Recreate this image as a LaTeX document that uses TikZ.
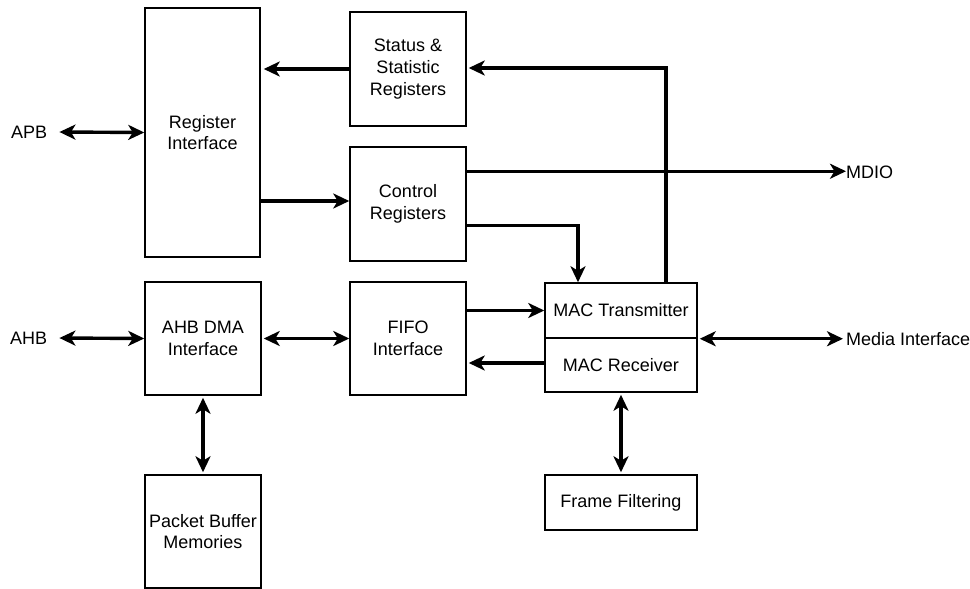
\documentclass[tikz,border=0pt]{standalone}
\usepackage{fontspec}
\setmainfont{Liberation Sans}
\usetikzlibrary{arrows.meta,calc}
\begin{document}
\begin{tikzpicture}[x=1pt,y=-1pt,
  box/.style={draw, line width=1.5pt, align=center, inner sep=0pt, font=\fontsize{18}{21.8}\selectfont},
  lbl/.style={inner sep=0pt, anchor=west, font=\fontsize{18}{21.8}\selectfont},
  tip/.tip={Stealth[length=16pt,width=15pt,inset=4.5pt]},
  arr/.style={line width=3.4pt, -tip},
  biarr/.style={line width=3.4pt, tip-tip}]
\useasboundingbox (0,0) rectangle (970,589);
% boxes
\node[box, minimum width=115pt, minimum height=249pt] (ri) at (202.5,132.5) {Register\\Interface};
\node[box, minimum width=116pt, minimum height=114pt] (ss) at (408,69) {Status \&\\Statistic\\Registers};
\node[box, minimum width=116pt, minimum height=114pt] (cr) at (408,204) {Control\\Registers};
\node[box, minimum width=116pt, minimum height=113pt] (dma) at (203,338.5) {AHB DMA\\Interface};
\node[box, minimum width=116pt, minimum height=113pt] (fifo) at (408,338.5) {FIFO\\Interface};
\node[box, minimum width=116pt, minimum height=113pt] (pbm) at (203,531.5) {Packet Buffer\\Memories};
\node[box, minimum width=152pt, minimum height=55pt] (mtx) at (621,310.5) {MAC Transmitter};
\node[box, minimum width=152pt, minimum height=54pt] (mrx) at (621,365) {MAC Receiver};
\node[box, minimum width=152pt, minimum height=55pt] (ff) at (621,502.5) {Frame Filtering};
% labels
\node[lbl] (apb) at (11,132) {APB};
\node[lbl] (ahb) at (10,338) {AHB};
\node[lbl] (mdio) at (846,172) {MDIO};
\node[lbl] (media) at (846,339) {Media Interface};
% connectors
\draw[biarr] ([xshift=12pt]apb.east) -- (ri.west);
\draw[biarr] ([xshift=12pt]ahb.east) -- (dma.west);
\draw[arr] (ss.west) -- ([xshift=3pt]ss.west -| ri.east);
\draw[arr] ([yshift=3pt]cr.west -| ri.east) -- ([yshift=3pt]cr.west);
\draw[arr] ([yshift=-25pt]cr.north east) -- ([yshift=-25pt]cr.north east -| mdio.west);
\draw[arr] ([yshift=36pt]cr.south east) -| ([xshift=-43pt]mtx.north);
\draw[arr] ([xshift=45pt]mtx.north) |- ([xshift=2pt,yshift=1pt]ss.east);
\draw[biarr] ([xshift=2pt]dma.east) -- (fifo.west);
\draw[arr] (fifo.east |- mtx.west) -- (mtx.west);
\draw[arr] ([yshift=2pt]mrx.west) -- ([xshift=2pt,yshift=2pt]mrx.west -| fifo.east);
\draw[biarr] ([xshift=2pt]mtx.south east) -- ([xshift=-3pt]mtx.south east -| media.west);
\draw[biarr] ([yshift=-2pt]dma.south) -- ([yshift=2pt]pbm.north);
\draw[biarr] ([yshift=-2pt]mrx.south) -- ([yshift=2pt]ff.north);
\end{tikzpicture}
\end{document}
